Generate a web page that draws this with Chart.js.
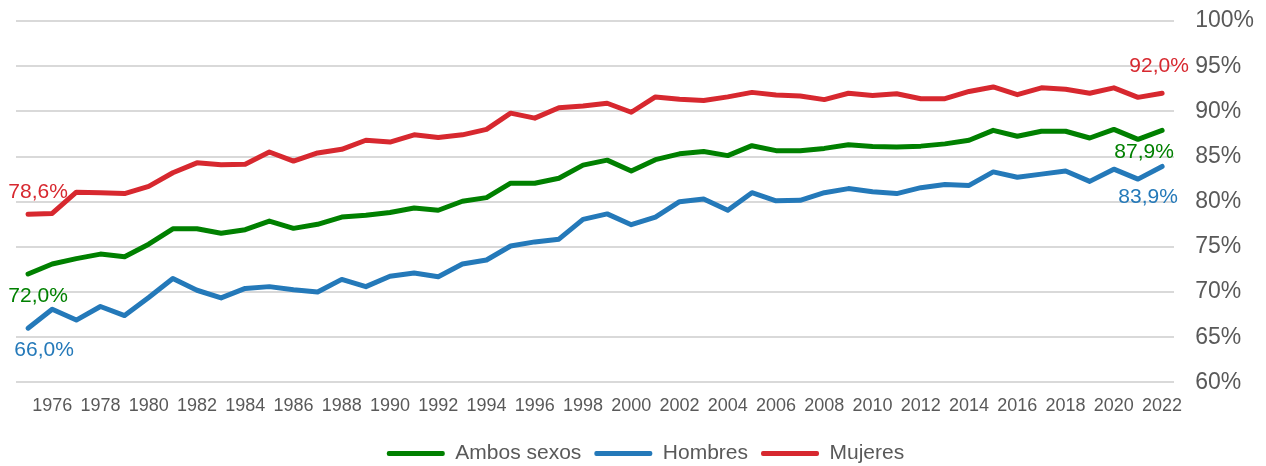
<!DOCTYPE html>
<html>
<head>
<meta charset="utf-8">
<script src="https://cdn.jsdelivr.net/npm/chart.js@4/dist/chart.umd.min.js"></script>
<style>
    html, body { margin: 0; padding: 0; background: #fff; }
    #wrap { width: 1266px; height: 466px; }
</style>
</head>
<body>
<div id="wrap"><canvas id="myChart" width="1266" height="466"></canvas></div>
<script>
// Years on the x axis
const years = [
    '1975', '1976', '1977', '1978', '1979', '1980', '1981', '1982', '1983', '1984',
    '1985', '1986', '1987', '1988', '1989', '1990', '1991', '1992', '1993', '1994',
    '1995', '1996', '1997', '1998', '1999', '2000', '2001', '2002', '2003', '2004',
    '2005', '2006', '2007', '2008', '2009', '2010', '2011', '2012', '2013', '2014',
    '2015', '2016', '2017', '2018', '2019', '2020', '2021', '2022'
];

// Series values (%)
const ambosSexos = [
    72.0, 73.1, 73.7, 74.2, 73.9, 75.3, 77.0, 77.0, 76.5, 76.9,
    77.85, 77.05, 77.5, 78.3, 78.5, 78.8, 79.3, 79.05, 80.05, 80.45,
    82.05, 82.05, 82.6, 84.05, 84.6, 83.4, 84.65, 85.3, 85.55, 85.1,
    86.2, 85.65, 85.65, 85.9, 86.3, 86.1, 86.05, 86.15, 86.4, 86.8,
    87.9, 87.25, 87.8, 87.8, 87.05, 88.0, 86.9, 87.9
];
const hombres = [
    66.0, 68.1, 66.9, 68.4, 67.4, 69.4, 71.5, 70.2, 69.35, 70.4,
    70.6, 70.25, 70.0, 71.4, 70.6, 71.75, 72.1, 71.7, 73.1, 73.55,
    75.1, 75.55, 75.85, 78.05, 78.65, 77.45, 78.3, 80.0, 80.3, 79.05,
    81.0, 80.1, 80.15, 81.0, 81.45, 81.1, 80.9, 81.55, 81.9, 81.8,
    83.3, 82.7, 83.05, 83.4, 82.25, 83.6, 82.5, 83.9
];
const mujeres = [
    78.6, 78.7, 81.05, 81.0, 80.9, 81.7, 83.2, 84.3, 84.1, 84.15,
    85.5, 84.5, 85.4, 85.8, 86.8, 86.6, 87.4, 87.1, 87.4, 88.0,
    89.8, 89.25, 90.4, 90.6, 90.9, 89.9, 91.6, 91.35, 91.2, 91.6,
    92.1, 91.8, 91.7, 91.3, 92.0, 91.75, 91.95, 91.4, 91.4, 92.2,
    92.7, 91.85, 92.6, 92.45, 92.0, 92.6, 91.55, 92.0
];

// Y axis ticks
const yTicks = [60, 65, 70, 75, 80, 85, 90, 95, 100];

const greyText = '#595959';
const fontFamily = '"Liberation Sans", Arial, sans-serif';

// Labels at the first and last point of every line
const endLabels = {
    id: 'endLabels',
    afterDatasetsDraw(chart) {
        const ctx = chart.ctx;
        // offsets of the label centre from the point: [first dx, dy, last dx, dy]
        const offsets = [
            [10, 22, -18, 22],
            [16, 22, -14, 31],
            [10, -22, -3, -27]
        ];
        ctx.save();
        ctx.font = '21px ' + fontFamily;
        ctx.textAlign = 'center';
        ctx.textBaseline = 'middle';
        chart.data.datasets.forEach((ds, i) => {
            const pts = chart.getDatasetMeta(i).data;
            const first = pts[0];
            const last = pts[pts.length - 1];
            const o = offsets[i];
            ctx.fillStyle = ds.borderColor;
            ctx.fillText(fmt(ds.data[0]), first.x + o[0], first.y + o[1]);
            ctx.fillText(fmt(ds.data[ds.data.length - 1]), last.x + o[2], last.y + o[3]);
        });
        ctx.restore();
    }
};

function fmt(v) {
    return v.toFixed(1).replace('.', ',') + '%';
}

const ctx = document.getElementById('myChart').getContext('2d');
const myChart = new Chart(ctx, {
    type: 'line',
    data: {
        labels: years,
        datasets: [
            { label: 'Ambos sexos', data: ambosSexos, borderColor: '#008000', backgroundColor: '#008000' },
            { label: 'Hombres', data: hombres, borderColor: '#2479b9', backgroundColor: '#2479b9' },
            { label: 'Mujeres', data: mujeres, borderColor: '#d7282f', backgroundColor: '#d7282f' }
        ]
    },
    options: {
        responsive: false,
        animation: false,
        layout: { padding: { left: 16, right: -9, top: 21, bottom: -8 } },
        elements: {
            line: { borderWidth: 5, tension: 0, borderJoinStyle: 'round', borderCapStyle: 'round' },
            point: { radius: 0, hoverRadius: 0 }
        },
        plugins: {
            tooltip: { enabled: false },
            legend: {
                position: 'bottom',
                labels: {
                    color: greyText,
                    font: { family: fontFamily, size: 21 },
                    boxWidth: 58,
                    boxHeight: 5,
                    padding: 13,
                    useBorderRadius: true,
                    borderRadius: 2,
                    generateLabels(chart) {
                        return Chart.defaults.plugins.legend.labels.generateLabels(chart)
                            .map(l => Object.assign(l, { lineWidth: 0 }));
                    }
                }
            }
        },
        scales: {
            x: {
                offset: true,
                grid: { display: false, drawTicks: false },
                border: { display: false },
                ticks: {
                    autoSkip: false,
                    maxRotation: 0,
                    padding: 13,
                    color: greyText,
                    font: { family: fontFamily, size: 18 },
                    callback: function (val, i) {
                        return i % 2 === 1 ? this.getLabelForValue(val) : '';
                    }
                }
            },
            y: {
                position: 'right',
                min: yTicks[0],
                max: yTicks[yTicks.length - 1],
                afterBuildTicks: (axis) => {
                    axis.ticks = yTicks.map(v => ({ value: v }));
                },
                afterFit: (axis) => {
                    // keep the tick padding from pushing the plot area down
                    axis.paddingTop = 0;
                    axis.paddingBottom = 0;
                },
                grid: { color: '#d9d9d9', lineWidth: 2, drawTicks: false },
                border: { display: false },
                ticks: {
                    padding: 21,
                    color: greyText,
                    font: { family: fontFamily, size: 23 },
                    callback: (v) => v + '%'
                }
            }
        }
    },
    plugins: [endLabels]
});
</script>
</body>
</html>
